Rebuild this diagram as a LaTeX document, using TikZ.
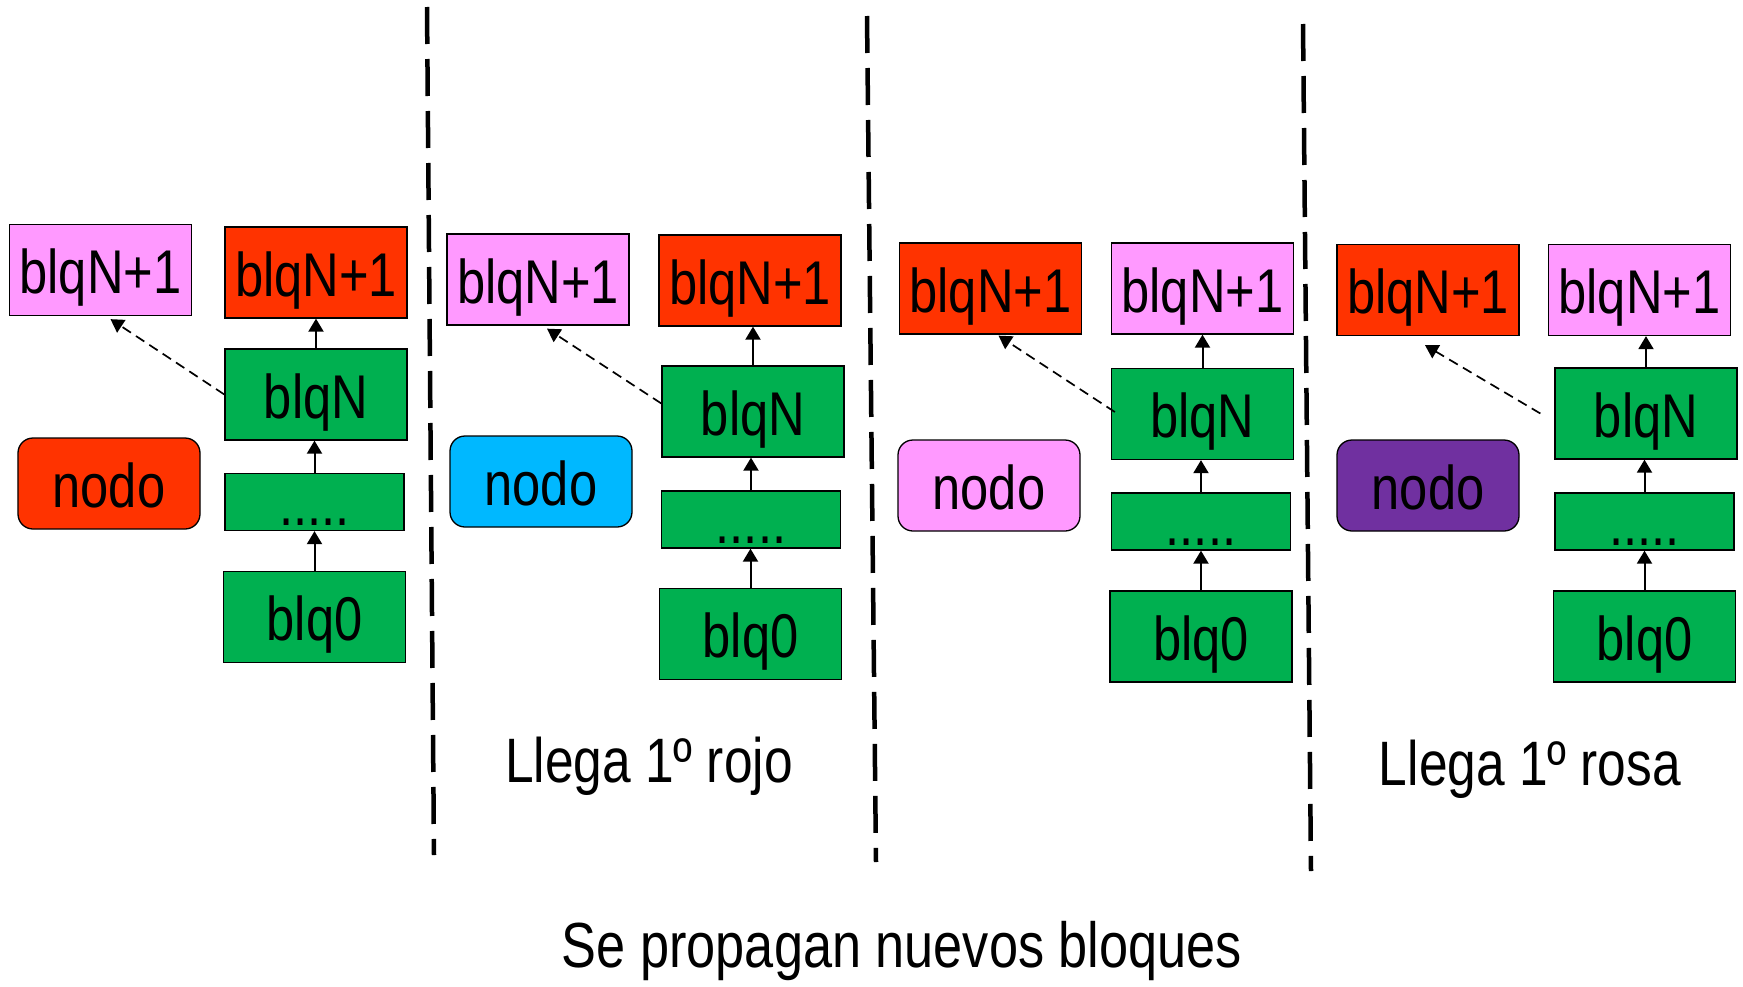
\documentclass[tikz,border=0pt]{standalone}
\usepackage{fontspec}
\setmainfont{Liberation Sans}[FakeStretch=0.82]
\usetikzlibrary{arrows.meta,calc}

\definecolor{rosa}{HTML}{FF99FF}
\definecolor{rojo}{HTML}{FF3300}
\definecolor{verde}{HTML}{00B050}
\definecolor{cian}{HTML}{00B8FF}
\definecolor{morado}{HTML}{7030A0}

\tikzset{
  box/.style={draw=black, line width=1.3bp, minimum width=182bp, minimum height=91bp,
    inner sep=0pt, text height=47bp, text depth=0bp, font=\fontsize{62}{70}\selectfont},
  blk/.style={box, fill=verde},
  dotbox/.style={box, fill=verde, minimum width=179bp, minimum height=57bp},
  newblk/.style={box, fill=#1},
  peer/.style={box, fill=#1, rounded corners=15bp},
  up/.style={-{Triangle[length=13bp,width=15bp]}, line width=2bp},
  gossip/.style={-{Triangle[length=13bp,width=15bp]}, line width=1.7bp, dash pattern=on 10bp off 6bp},
  divider/.style={line width=4.5bp, dash pattern=on 37bp off 15bp},
  caption/.style={anchor=base, inner sep=0pt, font=\fontsize{63}{72}\selectfont},
}

\begin{document}
\begin{tikzpicture}[x=1bp, y=-1bp]
\useasboundingbox (0,0) rectangle (1743,986);

% ---- panel 1 ----
\node[newblk=rosa] (p1a) at (100.5,270) {blqN+1};
\node[newblk=rojo] (p1b) at (316,272.5) {blqN+1};
\node[blk]         (p1n) at (316,394.5) {blqN};
\node[dotbox]      (p1d) at (314.5,502) {.....};
\node[blk]         (p1z) at (314.5,617) {blq0};
\node[peer=rojo]   (p1o) at (109,483.5) {nodo};
\draw[up] (p1z.north) -- (p1z.north |- p1d.south);
\draw[up] (p1d.north) -- (p1d.north |- p1n.south);
\draw[up] (p1n.north) -- (p1n.north |- p1b.south);
\draw[gossip] (p1n.west) -- ($(p1a.south)+(10,3)$);

% ---- panel 2 ----
\node[newblk=rosa] (p2a) at (538,279.5) {blqN+1};
\node[newblk=rojo] (p2b) at (750,280.5) {blqN+1};
\node[blk]         (p2n) at (753,411.5) {blqN};
\node[dotbox]      (p2d) at (751,519.5) {.....};
\node[blk]         (p2z) at (750.5,634) {blq0};
\node[peer=cian]   (p2o) at (541,481.5) {nodo};
\draw[up] (p2z.north) -- (p2z.north |- p2d.south);
\draw[up] (p2d.north) -- (p2d.north |- p2n.south);
\draw[up] (p2n.north) -- (p2n.north |- p2b.south);
\draw[gossip] ($(p2n.west)+(0,-8)$) -- ($(p2a.south)+(9,3)$);
\node[caption] (c1) at (649,782) {Llega 1º rojo};

% ---- panel 3 ----
\node[newblk=rojo] (p3a) at (990.5,288.5) {blqN+1};
\node[newblk=rosa] (p3b) at (1202.5,288.5) {blqN+1};
\node[blk]         (p3n) at (1202.5,414) {blqN};
\node[dotbox]      (p3d) at (1201,521.5) {.....};
\node[blk]         (p3z) at (1201,636.5) {blq0};
\node[peer=rosa]   (p3o) at (989,485.5) {nodo};
\draw[up] (p3z.north) -- (p3z.north |- p3d.south);
\draw[up] (p3d.north) -- (p3d.north |- p3n.south);
\draw[up] (p3n.north) -- (p3n.north |- p3b.south);
\draw[gossip] ($(p3n.west)+(4,-2)$) -- ($(p3a.south)+(8,1)$);

% ---- panel 4 ----
\node[newblk=rojo] (p4a) at (1428,290) {blqN+1};
\node[newblk=rosa] (p4b) at (1639.5,290) {blqN+1};
\node[blk]         (p4n) at (1646,413.5) {blqN};
\node[dotbox]      (p4d) at (1644.5,521.5) {.....};
\node[blk]         (p4z) at (1644.5,636.5) {blq0};
\node[peer=morado] (p4o) at (1428,485.5) {nodo};
\draw[up] (p4z.north) -- (p4z.north |- p4d.south);
\draw[up] (p4d.north) -- (p4d.north |- p4n.south);
\draw[up] (p4n.north) -- (p4n.north |- p4b.south);
\draw[gossip] ($(p4n.west)+(-14,0)$) -- ($(p4a.south)+(-3,9)$);
\node[caption] (c2) at (1530,785) {Llega 1º rosa};

% ---- separators ----
\coordinate (v1a) at (427,7);
\coordinate (v1b) at (434,855);
\coordinate (v2a) at (867,16);
\coordinate (v2b) at (876,862);
\coordinate (v3a) at (1303,24);
\coordinate (v3b) at (1311,871);
\draw[divider] (v1a) -- (v1b);
\draw[divider] (v2a) -- (v2b);
\draw[divider] (v3a) -- (v3b);

\node[caption, font=\fontsize{64}{72}\selectfont] (c3) at (902,967) {Se propagan nuevos bloques};
\end{tikzpicture}
\end{document}
